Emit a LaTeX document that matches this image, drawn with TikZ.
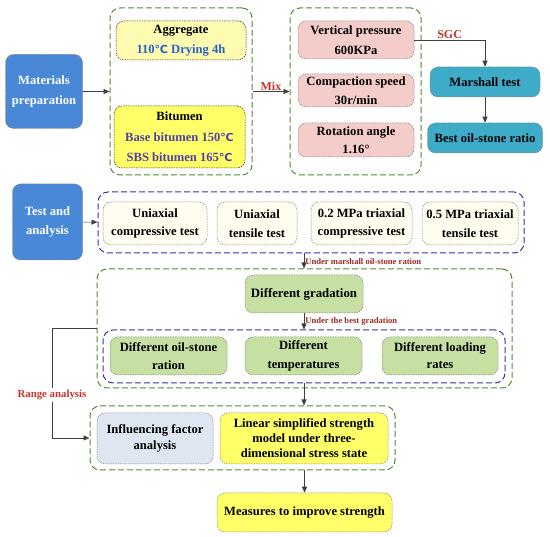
\documentclass[tikz,border=0pt]{standalone}
\usepackage{fontspec}
\setmainfont{Liberation Serif}
\newfontfamily\celsfont{DejaVu Sans}
\newcommand{\cels}{{\celsfont\fontsize{11}{12}\selectfont ℃}}
\definecolor{fbblue}{RGB}{72,136,214}
\definecolor{fbteal}{RGB}{62,172,200}
\definecolor{fbgreen}{RGB}{82,138,52}
\definecolor{fbnavy}{RGB}{52,52,178}
\definecolor{fbyellow}{RGB}{255,255,104}
\definecolor{fbpaleyel}{RGB}{253,251,176}
\definecolor{fbpink}{RGB}{244,204,202}
\definecolor{fbcream}{RGB}{255,252,240}
\definecolor{fbleaf}{RGB}{198,224,164}
\definecolor{fbmist}{RGB}{222,230,242}
\definecolor{fbred}{RGB}{196,52,44}
\definecolor{fbtxtblue}{RGB}{40,96,200}
\definecolor{fbtxtpurple}{RGB}{84,62,170}
\usetikzlibrary{arrows.meta,positioning}

\begin{document}
\begin{tikzpicture}[x=1pt,y=-1pt,
  frame/.style={draw=fbgreen,line width=1pt,dash pattern=on 6pt off 3pt,rounded corners=10pt},
  bframe/.style={frame,draw=fbnavy},
  box/.style={draw=gray,line width=0.5pt,dash pattern=on 1.5pt off 1pt,rounded corners=8pt,align=center,
    inner sep=0pt,font=\fontsize{12.6}{18.5}\selectfont\bfseries},
  head/.style={box,fill=fbblue,text=white,font=\fontsize{12.6}{20}\selectfont\bfseries},
  lbl/.style={text=fbred,font=\fontsize{12}{13}\selectfont\bfseries,inner sep=1pt},
  note/.style={text=fbred!80!black,font=\fontsize{8.6}{10}\selectfont\bfseries,inner sep=1pt,anchor=west},
  arr/.style={-{Triangle[length=6pt,width=5pt]},draw=black!75,line width=0.6pt}
]
  \useasboundingbox (0,0) rectangle (550,537);
  % Materials preparation
  \node[head,minimum width=77pt,minimum height=74pt] (mat) at (44,91.5) {Materials\\preparation};
  \node[frame,minimum width=142pt,minimum height=167pt] (mix1) at (181,91.5) {};
  \node[box,draw=black!70!brown,fill=fbpaleyel,minimum width=130pt,minimum height=39pt,font=\fontsize{12.6}{20}\selectfont\bfseries] (agg) at (181,40.5)
    {Aggregate\\\textcolor{fbtxtblue}{110\cels\ Drying 4h}};
  \node[box,draw=black!70!brown,fill=fbyellow,minimum width=131pt,minimum height=62pt,font=\fontsize{12.6}{20.5}\selectfont\bfseries] (bit) at (179.5,137)
    {Bitumen\\\textcolor{fbtxtpurple}{Base bitumen 150\cels}\\\textcolor{fbtxtpurple}{SBS bitumen 165\cels}};
  \node[frame,minimum width=131pt,minimum height=167pt] (sgc) at (355.5,91.5) {};
  \node[box,fill=fbpink,minimum width=116pt,minimum height=38pt,font=\fontsize{12.6}{20}\selectfont\bfseries] (vp) at (356,40) {Vertical pressure\\600KPa};
  \node[box,fill=fbpink,minimum width=116pt,minimum height=33pt] (cs) at (356,90.5) {Compaction speed\\30r/min};
  \node[box,fill=fbpink,minimum width=116pt,minimum height=34pt] (ra) at (356,140) {Rotation angle\\1.16°};
  \node[box,fill=fbteal,minimum width=110pt,minimum height=30pt] (mar) at (485,82) {Marshall test};
  \node[box,fill=fbteal,minimum width=115pt,minimum height=30pt] (best) at (485,138) {Best oil-stone ratio};
  \draw[arr] (mat) -- (mix1);
  \draw[arr] (mix1) -- node[lbl,above] {Mix} (sgc);
  \draw[arr] (vp.east) -| node[lbl,pos=0.25,above] {SGC} (mar.north);
  \draw[arr] (mar) -- (best);
  % Test and analysis
  \node[head,minimum width=70pt,minimum height=76pt,font=\fontsize{12.6}{19}\selectfont\bfseries] (test) at (47.5,222) {Test and\\analysis};
  \node[bframe,minimum width=426pt,minimum height=61pt] (tests) at (311,222.5) {};
  \node[box,fill=fbcream,minimum width=104pt,minimum height=43pt] (uc) at (155,223.5) {Uniaxial\\compressive test};
  \node[box,fill=fbcream,minimum width=80pt,minimum height=43pt] (ut) at (257,223.5) {Uniaxial\\tensile test};
  \node[box,fill=fbcream,minimum width=101pt,minimum height=43pt] (tc) at (361.5,223.5) {0.2 MPa triaxial\\compressive test};
  \node[box,fill=fbcream,minimum width=96pt,minimum height=43pt] (tt) at (470,223.5) {0.5 MPa triaxial\\tensile test};
  \draw[arr] (test) -- (tests);
  % Factors
  \node[frame,minimum width=415pt,minimum height=119pt] (fac) at (304.5,328.5) {};
  \node[box,fill=fbleaf,minimum width=118pt,minimum height=38pt,font=\fontsize{12.8}{18}\selectfont\bfseries] (grad) at (304,294) {Different gradation};
  \node[bframe,minimum width=402pt,minimum height=53pt] (rest) at (304,356.5) {};
  \node[box,fill=fbleaf,minimum width=117pt,minimum height=38pt] (dos) at (168.5,356) {Different oil-stone\\ration};
  \node[box,fill=fbleaf,minimum width=117pt,minimum height=38pt] (dt) at (303.5,356) {Different\\temperatures};
  \node[box,fill=fbleaf,minimum width=116pt,minimum height=38pt,font=\fontsize{12.6}{17}\selectfont\bfseries] (dl) at (440,356) {Different loading\\rates};
  \draw[arr] (tests.south -| grad) -- node[note,right,pos=0.55] {Under marshall oil-stone ration} (fac.north -| grad);
  \draw[arr] (grad) -- node[note,right,pos=0.5] {Under the best gradation} (rest.north -| grad);
  % Results
  \node[frame,minimum width=305pt,minimum height=64pt] (res) at (242.5,438) {};
  \node[box,fill=fbmist,minimum width=116pt,minimum height=51pt,font=\fontsize{12.6}{16}\selectfont\bfseries] (inf) at (155,438.5) {Influencing factor\\analysis};
  \node[box,fill=fbyellow,minimum width=168pt,minimum height=51pt,font=\fontsize{12.6}{15}\selectfont\bfseries] (lin) at (304,438.5)
    {Linear simplified strength\\model under three-\\dimensional stress state};
  \node[box,fill=fbyellow,minimum width=175pt,minimum height=39pt] (mea) at (304.5,512.5) {Measures to improve strength};
  \node[text=fbred,font=\fontsize{10.8}{12}\selectfont\bfseries,inner sep=2pt] (rng) at (52,395) {Range analysis};
  \draw[draw=black!75,line width=0.6pt] (fac.west) -| (rng.north);
  \draw[arr] (rng.south) |- (res.west);
  \draw[arr] (rest.south -| lin) -- (res.north -| lin);
  \draw[arr] (res.south -| mea) -- (mea);
\end{tikzpicture}
\end{document}
